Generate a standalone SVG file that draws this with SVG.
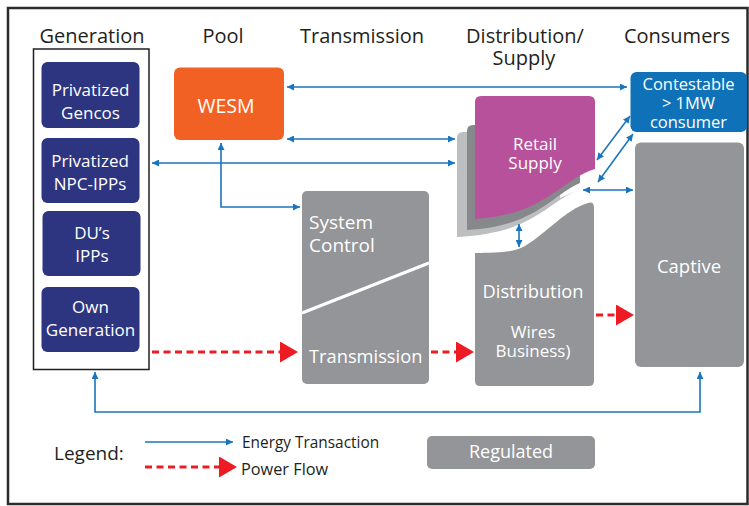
<svg xmlns="http://www.w3.org/2000/svg" width="749" height="506" viewBox="0 0 749 506">
<defs>
<style>
text{font-family:"Open Sans","Noto Sans","DejaVu Sans",sans-serif;}
.hd{font-size:20px;fill:#231f20;text-anchor:middle;}
.wt{fill:#fff;text-anchor:middle;}
.gen{fill:#2d3581;}
.reg{fill:#939598;}
.blue{stroke:#1b75bc;stroke-width:1.6;fill:none;marker-start:url(#ab);marker-end:url(#ab);}
.blue1{stroke:#1b75bc;stroke-width:1.6;fill:none;marker-end:url(#ab);}
.red{stroke:#ed1c24;stroke-width:3;stroke-dasharray:7 4.5;fill:none;marker-end:url(#ar);}
</style>
<marker id="ab" viewBox="0 0 10 10" refX="10" refY="5" markerWidth="8" markerHeight="7" markerUnits="userSpaceOnUse" orient="auto-start-reverse"><path d="M0,0 L10,5 L0,10 Z" fill="#1b75bc"/></marker>
<marker id="ar" viewBox="0 0 18 21" refX="0" refY="10.5" markerWidth="18" markerHeight="21" markerUnits="userSpaceOnUse" orient="auto"><path d="M0,0 L18,10.5 L0,21 Z" fill="#ed1c24"/></marker>
</defs>
<rect width="749" height="506" fill="#fff"/>
<path d="M8,504 V8 H747.5 V504 Z" fill="none" stroke="#2b2b2b" stroke-width="2.5"/>

<g id="headers">
<text class="hd" x="92" y="43">Generation</text>
<text class="hd" x="223" y="43">Pool</text>
<text class="hd" x="362" y="43">Transmission</text>
<text class="hd" x="525" y="43">Distribution/<tspan x="524" y="65">Supply</tspan></text>
<text class="hd" x="677" y="43">Consumers</text>
</g>

<g id="generation">
<rect x="33.5" y="49" width="115.5" height="320.5" fill="#fff" stroke="#231f20" stroke-width="1.5"/>
</g>
<g id="gencos">
<rect class="gen" x="41.5" y="62" width="98" height="66" rx="6"/>
<text class="wt" x="90.5" y="96" font-size="17">Privatized<tspan x="90.5" y="119">Gencos</tspan></text>
</g>
<g id="npc-ipps">
<rect class="gen" x="41.5" y="138" width="98" height="65" rx="6"/>
<text class="wt" x="90" y="167" font-size="17">Privatized<tspan x="90" y="190">NPC-IPPs</tspan></text>
</g>
<g id="du-ipps">
<rect class="gen" x="42.5" y="211" width="98" height="65" rx="6"/>
<text class="wt" x="92" y="239" font-size="17">DU’s<tspan x="92" y="262">IPPs</tspan></text>
</g>
<g id="own-generation">
<rect class="gen" x="41.5" y="287" width="98" height="65" rx="6"/>
<text class="wt" x="90.5" y="313" font-size="17">Own<tspan x="90.5" y="336">Generation</tspan></text>
</g>

<g id="wesm">
<rect x="174" y="67.5" width="110" height="72.5" rx="6" fill="#f26124"/>
<text class="wt" x="226" y="113" font-size="19.5">WESM</text>
</g>

<g id="system-control">
<rect class="reg" x="302" y="191" width="127" height="193" rx="5"/>
<line x1="302" y1="313" x2="429" y2="263" stroke="#fff" stroke-width="3"/>
<text x="309" y="229" font-size="19" fill="#fff">System<tspan x="309" y="252">Control</tspan></text>
<text x="309" y="363" font-size="18.3" fill="#fff">Transmission</text>
</g>

<g id="retail-supply">
<path d="M463,132 H560 V198 L576,191 C545,205 530,234 457,237 V138 Q457,132 463,132 Z" fill="#bcbec0"/>
<path d="M473,125 H580 V183 C553,194 535,227 467,230 V131 Q467,125 473,125 Z" fill="#87888b"/>
<path d="M481,96 H589 Q595,96 595,102 V169 C560,180 545,215 475,219 V102 Q475,96 481,96 Z" fill="#b7519b"/>
<text class="wt" x="535" y="150" font-size="17">Retail<tspan x="535" y="169">Supply</tspan></text>
</g>

<g id="distribution">
<path d="M475,253 C500,253 515,252 525,246 C548,232 565,210 588,203 Q594,201 594,208 V381 Q594,386 589,386 H480 Q475,386 475,381 Z" fill="#939598"/>
<text class="wt" x="533" y="298" font-size="18.3">Distribution</text>
<text class="wt" x="533" y="338" font-size="17">Wires<tspan x="533" y="357">Business)</tspan></text>
</g>

<g id="contestable">
<rect x="630.5" y="72" width="116.5" height="60" rx="6" fill="#0f72b8"/>
<text class="wt" x="688.5" y="90" font-size="16.5">Contestable<tspan x="688.5" y="109">&gt; 1MW</tspan><tspan x="688.5" y="128">consumer</tspan></text>
</g>

<g id="captive">
<rect class="reg" x="635" y="142.5" width="109" height="224.5" rx="6"/>
<text class="wt" x="689" y="273" font-size="18.5">Captive</text>
</g>

<g id="connectors">
<line class="blue" x1="287" y1="87" x2="627" y2="87"/>
<line class="blue" x1="287" y1="139" x2="455" y2="139"/>
<line class="blue" x1="152" y1="163" x2="455" y2="163"/>
<path class="blue" d="M221,143 V207 H300"/>
<line class="blue" x1="519" y1="224" x2="519" y2="247"/>
<line class="blue" x1="583" y1="190" x2="633" y2="190"/>
<line class="blue" x1="597" y1="160" x2="630" y2="116"/>
<line class="blue" x1="598" y1="182" x2="633" y2="134"/>
<path class="blue" d="M95,372 V412 H700 V372"/>
<line class="red" x1="152" y1="352" x2="280" y2="352"/>
<line class="red" x1="431" y1="352" x2="456" y2="352"/>
<line class="red" x1="596" y1="315" x2="616" y2="315"/>
</g>

<g id="legend">
<text x="54" y="460" font-size="19" fill="#231f20">Legend:</text>
<line class="blue1" x1="145" y1="442" x2="233" y2="442"/>
<text x="242" y="448" font-size="15.4" fill="#231f20">Energy Transaction</text>
<line class="red" x1="145" y1="467" x2="219" y2="467"/>
<text x="241" y="475" font-size="16.3" fill="#231f20">Power Flow</text>
<rect class="reg" x="427" y="436" width="168" height="33" rx="5"/>
<text class="wt" x="511" y="458" font-size="18">Regulated</text>
</g>
</svg>
